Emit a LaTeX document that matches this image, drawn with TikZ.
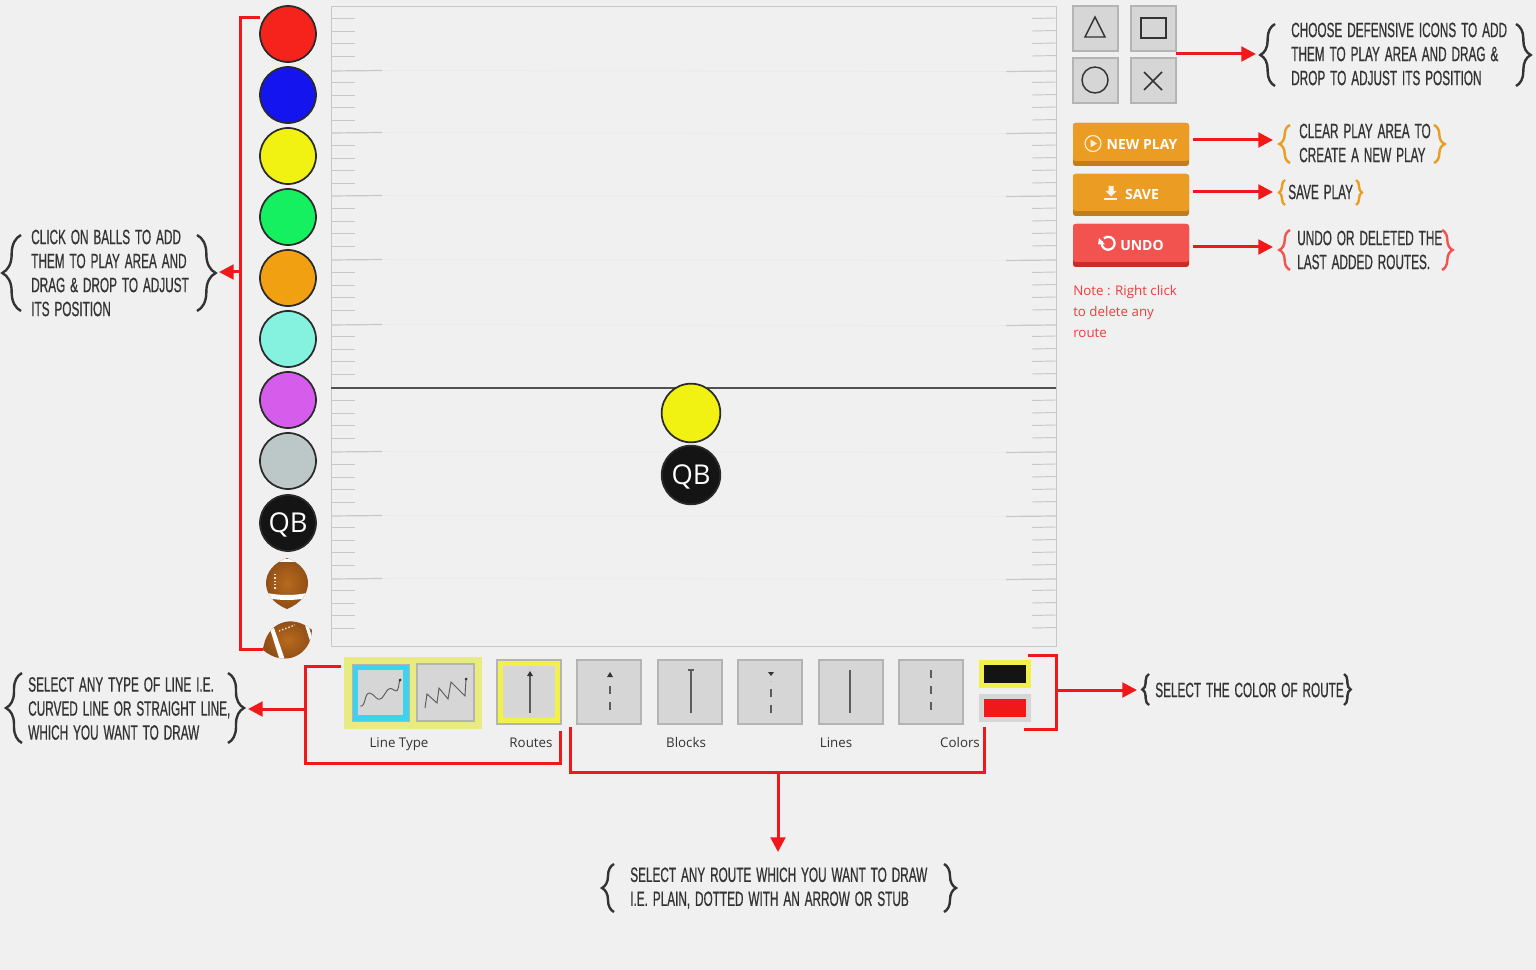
\documentclass[tikz,border=0pt]{standalone}
\usepackage{fontspec}
\usetikzlibrary{decorations.pathreplacing,arrows.meta,calc}
\setmainfont{Open Sans}
\newfontfamily\capsf[FakeStretch=0.57,FakeBold=0.6,WordSpace=1.5]{Liberation Sans}
\newfontfamily\btnf{Open Sans}
\definecolor{pagebg}{HTML}{F0F0F0}
\definecolor{redline}{HTML}{F01818}
\definecolor{ink}{HTML}{333333}
\definecolor{tilegray}{HTML}{D6D6D6}
\definecolor{tileedge}{HTML}{B4B4B4}
\definecolor{hiyel}{HTML}{F2F04A}
\definecolor{paleyel}{HTML}{E8EC80}
\definecolor{cyanb}{HTML}{3CD4EC}
\definecolor{orangeb}{HTML}{EA9D22}
\definecolor{oranged}{HTML}{BE7E1C}
\definecolor{redb}{HTML}{F2534E}
\definecolor{redd}{HTML}{CC2B25}
\definecolor{tickc}{HTML}{C8C8C8}
\definecolor{fbrown}{HTML}{8A4A14}
\definecolor{fbrownl}{HTML}{B86A1E}
\definecolor{c1}{HTML}{F5231B}
\definecolor{c2}{HTML}{1414EE}
\definecolor{c3}{HTML}{F2F212}
\definecolor{c4}{HTML}{14F060}
\definecolor{c5}{HTML}{F0A010}
\definecolor{c6}{HTML}{85F2E0}
\definecolor{c7}{HTML}{D65CEC}
\definecolor{c8}{HTML}{BCC8C8}
\definecolor{c9}{HTML}{141414}
\definecolor{ballrim}{HTML}{2A2A2A}
\tikzset{
  x=0.75pt,y=-0.75pt,
  conn/.style={draw=redline,line width=2.25pt},
  arr/.style={conn,-{Triangle[length=11pt,width=11pt]}},
  ball/.style={circle,draw=ballrim,line width=1.3pt,minimum size=42pt,inner sep=0pt},
  qbtext/.style={text=white,font=\fontsize{20.5}{22}\selectfont,text height=14.6pt,text depth=0pt},
  captxt/.style={font=\capsf\fontsize{15.5}{18}\selectfont,text=ink,align=left,anchor=west,inner sep=0pt},
  lab/.style={font=\fontsize{10}{12}\selectfont,text=ink,inner sep=0pt,anchor=base},
  tile/.style={draw=tileedge,fill=tilegray,line width=.8pt},
  glyph/.style={draw=ink,line width=1.1pt},
  routeln/.style={draw=ink!80,line width=1.1pt},
  dashln/.style={routeln,dash pattern=on 6pt off 6pt},
  brc/.style={draw=ink,line width=1.8pt,decorate,decoration={brace,amplitude=#1}},
  brc/.default=8pt,
  btn/.style={font=\btnf\bfseries\fontsize{10.5}{12}\selectfont,text=white,inner sep=0pt},
  ticks/.style={draw=tickc,line width=.7pt},
}
\newcommand{\Tile}[5]{\draw[tile] (#1,#2) rectangle (#3,#4); \coordinate (#5) at ({(#1+#3)/2},{(#2+#4)/2});}
\begin{document}
\begin{tikzpicture}
\useasboundingbox (0,0) rectangle (1536,970);
\fill[pagebg] (0,0) rectangle (1536,970);
% field
\draw[draw=tickc,line width=.7pt,fill=pagebg] (331,6) rectangle (1056,646);
\foreach \m in {7,71,134,197,261,325,389,453,516,579}{
  \foreach \k in {1,2,3,4}{
    \draw[ticks] (331,{\m+\k*12.5-1}) -- (355,{\m+\k*12.5-1});
    \draw[ticks] (1032,{\m+\k*12.5-1}) -- (1056,{\m+\k*12.5-1.5});
  }
}
\foreach \m in {71,133,196,260,325,452,516,579}{
  \draw[ticks,line width=.9pt] (331,\m) -- (382,{\m-.5});
  \draw[ticks,line width=.9pt] (1006,{\m+.5}) -- (1056,\m);
  \draw[draw=tickc!15!pagebg,line width=.4pt] (382,{\m-.5}) -- (1006,{\m+.5});
}
\coordinate (losL) at (331,388); \coordinate (losR) at (1056,388);
\draw[draw=ink!85,line width=1.1pt] (losL) -- (losR);
% palette balls
\node[ball,fill=c1] (b1) at (288,34) {};
\node[ball,fill=c2] (b2) at (288,95) {};
\node[ball,fill=c3] (b3) at (288,156) {};
\node[ball,fill=c4] (b4) at (288,217) {};
\node[ball,fill=c5] (b5) at (288,278) {};
\node[ball,fill=c6] (b6) at (288,339) {};
\node[ball,fill=c7] (b7) at (288,400) {};
\node[ball,fill=c8] (b8) at (288,461) {};
\node[ball,fill=c9,qbtext] (b9) at (288,523) {QB};
% footballs
\begin{scope}
  \clip (287,558) .. controls (315,568) and (315,598) .. (287,609) .. controls (259,598) and (259,568) .. (287,558) -- cycle;
  \shade[inner color=fbrownl,outer color=fbrown] (262,555) rectangle (312,611);
  \fill[white] (262,592) .. controls (280,596) and (294,596) .. (312,592) -- (312,597) .. controls (294,601) and (280,601) .. (262,597) -- cycle;
  \fill[white] (262,561) .. controls (280,558) and (294,558) .. (312,561) -- (312,564) .. controls (294,561) and (280,561) .. (262,564) -- cycle;
  \draw[white!85!brown,line width=1pt,dash pattern=on 1pt off 1.5pt] (275,574) -- (275,590);
\end{scope}
\begin{scope}
  \clip (263,650) .. controls (266,622) and (292,613) .. (312,630) .. controls (311,656) and (284,668) .. (263,650) -- cycle;
  \shade[inner color=fbrownl,outer color=fbrown] (260,618) rectangle (316,662);
  \fill[white] (270,629) -- (274,628) -- (285,660) -- (280,661) -- cycle;
  \fill[white] (304,622) -- (307,621) -- (313,640) -- (310,641) -- cycle;
  \draw[white!85!brown,line width=1pt,dash pattern=on 1pt off 1.5pt] (279,631) -- (295,625);
\end{scope}
\coordinate (f2) at (263,649);
% play balls
\node[ball,minimum size=44pt,fill=c3] (p1) at (691,413) {};
\node[ball,minimum size=44pt,fill=c9,qbtext] (p2) at (691,475) {QB};
% balls bracket
\coordinate (bt) at (260,18); \coordinate (bl) at (240,18); \coordinate (bb) at (240,649); \coordinate (bm) at (240,272);
\draw[conn] (bt) -- (bl) -- (bb) -- (f2);
\coordinate (ballsbrace) at (219,272);
\draw[arr] (bm) -- (ballsbrace);
% left caption
\draw[brc=14pt] (21,311) -- (21,235);
\draw[brc=14pt] (197,235) -- (197,311);
\node[captxt] (t1) at (31,273) {CLICK ON BALLS TO ADD\\THEM TO PLAY AREA AND\\DRAG \& DROP TO ADJUST\\ITS POSITION};
% toolbar
\fill[paleyel] (344,657) rectangle (482,729);
\draw[draw=tileedge,fill=cyanb] (352,664) rectangle (409,721);
\fill[tilegray] (358,670) rectangle (403,715);
\draw[tile] (417,664) rectangle (474,721);
\draw[routeln,line width=.7pt] (360,706) .. controls (366,708) and (364,692) .. (370,693) .. controls (376,695) and (376,702) .. (382,698) .. controls (388,690) and (388,686) .. (394,690) .. controls (400,694) and (398,682) .. (400,680);
\fill[ink] (400,680) circle (1.5);
\draw[routeln,line width=.7pt] (425,708) -- (427,694) -- (437,703) -- (439,688) -- (448,699) -- (451,682) -- (465,696) -- (466,679);
\fill[ink] (466,679) circle (1.5);
\Tile{577}{660}{641}{724}{r2}
\Tile{658}{660}{722}{724}{r3}
\Tile{738}{660}{802}{724}{r4}
\Tile{819}{660}{883}{724}{r5}
\Tile{899}{660}{963}{724}{r6}
\draw[draw=tileedge,line width=.8pt,fill=hiyel] (497,660) rectangle (561,724);
\fill[tilegray] (503,666) rectangle (555,718);
\coordinate (r1) at (529,692);
\draw[routeln] (530,713) -- (530,676); \fill[ink] (530,671) -- (533,676) -- (527,676) -- cycle;
\draw[dashln] (610,710) -- (610,680); \fill[ink] (610,672) -- (613,677) -- (607,677) -- cycle;
\draw[routeln] (691,713) -- (691,671); \draw[routeln,line width=1.4pt] (688,670) -- (694,670);
\draw[dashln] (771,713) -- (771,681); \fill[ink] (768,672) -- (774,672) -- (771,676) -- cycle;
\draw[routeln] (850,713) -- (850,670);
\draw[dashln] (931,670) -- (931,714);
\fill[hiyel] (979,660) rectangle (1031,688);
\fill[black!92] (984,665) rectangle (1026,683);
\fill[tilegray] (979,694) rectangle (1031,722);
\fill[redline] (984,699) rectangle (1026,717);
\node[lab] (l1) at (399,747) {Line Type};
\node[lab] (l2) at (531,747) {Routes};
\node[lab] (l3) at (686,747) {Blocks};
\node[lab] (l4) at (836,747) {Lines};
\node[lab] (l5) at (960,747) {Colors};
% toolbar brackets
\coordinate (a1) at (341,666); \coordinate (a2) at (305,666); \coordinate (a3) at (305,763); \coordinate (a4) at (560,763); \coordinate (a5) at (560,731);
\draw[conn] (a1) -- (a2) -- (a3) -- (a4) -- (a5);
\coordinate (a6) at (305,709); \coordinate (a7) at (248,709);
\draw[arr] (a6) -- (a7);
\coordinate (c1) at (570,727); \coordinate (c2) at (570,772); \coordinate (c3) at (984,772); \coordinate (c4) at (984,727);
\draw[conn] (c1) -- (c2) -- (c3) -- (c4);
\coordinate (c5) at (778,772); \coordinate (c6) at (778,852);
\draw[arr] (c5) -- (c6);
\coordinate (d1) at (1028,655); \coordinate (d2) at (1056,655); \coordinate (d3) at (1056,729); \coordinate (d4) at (1024,729);
\draw[conn] (d1) -- (d2) -- (d3) -- (d4);
\coordinate (d5) at (1056,690); \coordinate (d6) at (1137,690);
\draw[arr] (d5) -- (d6);
% captions lower
\draw[brc=12pt] (22,743) -- (22,673);
\draw[brc=12pt] (228,673) -- (228,743);
\node[captxt] (t2) at (28,708.5) {SELECT ANY TYPE OF LINE I.E.\\CURVED LINE OR STRAIGHT LINE,\\WHICH YOU WANT TO DRAW};
\draw[brc=5pt] (1149,705) -- (1149,674);
\draw[brc=5pt] (1344,674) -- (1344,705);
\node[captxt] (t3) at (1155,690) {SELECT THE COLOR OF ROUTE};
\draw[brc=9pt] (614,912) -- (614,864);
\draw[brc=9pt] (944,864) -- (944,912);
\node[captxt] (t4) at (630,888) {SELECT ANY ROUTE WHICH YOU WANT TO DRAW\\I.E. PLAIN, DOTTED WITH AN ARROW OR STUB};
% defence icons
\Tile{1073}{6}{1118}{51}{i1}
\Tile{1131}{6}{1176}{51}{i2}
\Tile{1073}{58}{1118}{103}{i3}
\Tile{1131}{58}{1176}{103}{i4}
\draw[glyph] (1095,17) -- (1105,37) -- (1085,37) -- cycle;
\draw[glyph] (1141,18) rectangle (1166,38);
\draw[glyph] (1095,80) circle (13);
\draw[glyph] (1144,72) -- (1162,90) (1162,72) -- (1144,90);
\coordinate (e1) at (1176,54); \coordinate (e2) at (1256,54);
\draw[arr] (e1) -- (e2);
\draw[brc=11pt] (1275,86) -- (1275,24);
\draw[brc=11pt] (1516,24) -- (1516,86);
\node[captxt] (t5) at (1291,54) {CHOOSE DEFENSIVE ICONS TO ADD\\THEM TO PLAY AREA AND DRAG \&\\DROP TO ADJUST ITS POSITION};
% buttons
\fill[oranged,rounded corners=2pt] (1073,123) rectangle (1189,166);
\fill[orangeb,rounded corners=2pt] (1073,123) rectangle (1189,161);
\node[btn] (n1) at (1142,144) {NEW PLAY};
\draw[draw=white!85!orange,line width=.9pt] (1093,143.5) circle (8);
\fill[white!85!orange] (1090.5,139.5) -- (1097,143.5) -- (1090.5,147.5) -- cycle;
\fill[oranged,rounded corners=2pt] (1073,174) rectangle (1189,216);
\fill[orangeb,rounded corners=2pt] (1073,174) rectangle (1189,211);
\node[btn] (n2) at (1142,194.5) {SAVE};
\fill[white!90!orange] (1108.5,186) rectangle (1113.5,191) (1105.5,191) -- (1116.5,191) -- (1111,196.5) -- cycle;
\fill[white!90!orange] (1104,198) rectangle (1117,200);
\fill[redd,rounded corners=2pt] (1073,224) rectangle (1189,267);
\fill[redb,rounded corners=2pt] (1073,224) rectangle (1189,262);
\node[btn] (n3) at (1142,245) {UNDO};
\draw[draw=white,line width=1.7pt] (1102,241) arc[start angle=200,end angle=-130,radius=6.5];
\fill[white] (1098,244.5) -- (1105,244.5) -- (1099,238) -- cycle;
\node[font=\fontsize{10}{15.5}\selectfont,text=redline!85!white,align=left,anchor=north west,inner sep=0pt] (note) at (1073,285.5) {Note : Right click\\to delete any\\route};
\coordinate (g1) at (1193,140); \coordinate (g2) at (1273,140);
\coordinate (g3) at (1193,192); \coordinate (g4) at (1273,192);
\coordinate (g5) at (1193,247); \coordinate (g6) at (1273,247);
\draw[arr] (g1) -- (g2); \draw[arr] (g3) -- (g4); \draw[arr] (g5) -- (g6);
\draw[brc=8pt,draw=orangeb] (1290,163) -- (1290,125);
\draw[brc=8pt,draw=orangeb] (1434,125) -- (1434,163);
\node[captxt] (t6) at (1299,143) {CLEAR PLAY AREA TO\\CREATE A NEW PLAY};
\draw[brc=4.5pt,draw=orangeb] (1285,205) -- (1285,180);
\draw[brc=4.5pt,draw=orangeb] (1356,180) -- (1356,205);
\node[captxt] (t7) at (1288,192) {SAVE PLAY};
\draw[brc=8pt,draw=redb] (1290,270) -- (1290,230);
\draw[brc=8pt,draw=redb] (1442,230) -- (1442,270);
\node[captxt] (t8) at (1297,250) {UNDO OR DELETED THE\\LAST ADDED ROUTES.};
\end{tikzpicture}
\end{document}
